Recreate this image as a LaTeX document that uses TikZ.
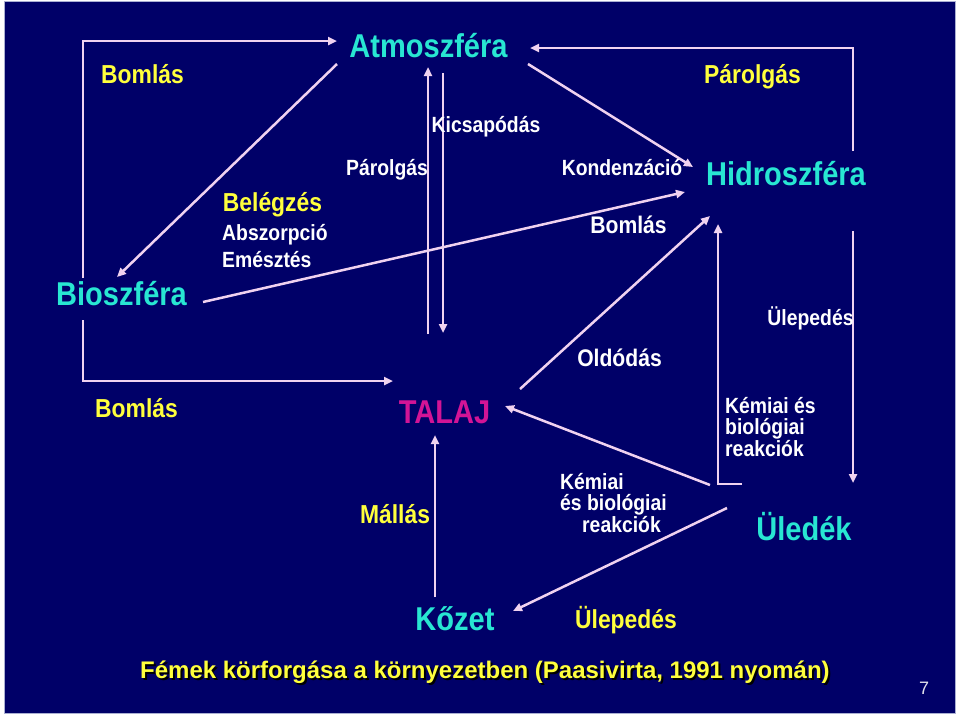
\documentclass[tikz,border=0pt]{standalone}
\usepackage{fontspec}
\setmainfont{Liberation Sans}
\newfontfamily\nar[FakeStretch=0.88]{Liberation Sans}
\usetikzlibrary{arrows.meta}
\definecolor{navy}{RGB}{0,0,104}
\definecolor{bordC}{RGB}{170,175,210}
\definecolor{cyanC}{RGB}{40,230,210}
\definecolor{yelC}{RGB}{255,255,60}
\definecolor{magC}{RGB}{210,20,150}
\definecolor{lineC}{RGB}{240,210,240}
\definecolor{numC}{RGB}{225,225,235}
\tikzset{
  sph/.style={anchor=base, inner sep=0pt, text=cyanC, font=\nar\bfseries\fontsize{33}{36}\selectfont},
  ylab/.style={anchor=base, inner sep=0pt, text=yelC, font=\nar\bfseries\fontsize{26}{30}\selectfont},
  wlab/.style={anchor=base, inner sep=0pt, text=white, font=\nar\bfseries\fontsize{22}{21.5}\selectfont},
  ttl/.style={anchor=base, inner sep=0pt, text=yelC, font=\bfseries\fontsize{24}{28}\selectfont},
  arr/.style={draw=lineC, line width=2.5pt, -{Triangle[length=9pt,width=8pt]}},
}
\begin{document}
\begin{tikzpicture}[x=1pt,y=-1pt]
\useasboundingbox (0,0) rectangle (960,716);
\fill[white] (0,0) rectangle (960,716);
\fill[navy,draw=bordC,line width=1pt] (4,1.5) rectangle (955.5,713.5);

% main nodes
\node[sph] (atm) at (428.5,57) {Atmoszféra};
\node[sph] (bio) at (121.5,305) {Bioszféra};
\node[sph] (hid) at (786,185) {Hidroszféra};
\node[sph,text=magC] (tal) at (444.5,423) {TALAJ};
\node[sph] (koz) at (455,630) {Kőzet};
\node[sph] (ule) at (804,540) {Üledék};

% connectors
\draw[arr] ([shift={(-38.5,-27)}]bio.base) |- ([shift={(-91.5,-16)}]atm.base);
\draw[arr] ([shift={(-91.5,7)}]atm.base) -- ([shift={(-4.5,-28)}]bio.base);
\draw[arr] ([shift={(-38.5,15)}]bio.base) |- ([shift={(-51.5,-42)}]tal.base);
\draw[arr] ([shift={(81.5,-3)}]bio.base) -- ([shift={(-101,7)}]hid.base);
\draw[arr] ([shift={(-16.5,-89)}]tal.base) -- ([shift={(-0.5,10)}]atm.base);
\draw[arr] ([shift={(14.5,16)}]atm.base) -- ([shift={(-1.5,-90)}]tal.base);
\draw[arr] ([shift={(99.5,7)}]atm.base) -- ([shift={(-93,-18)}]hid.base);
\draw[arr] ([shift={(67,-34)}]hid.base) |- ([shift={(101.5,-9)}]atm.base);
\draw[arr] ([shift={(75.5,-34)}]tal.base) -- ([shift={(-76,31)}]hid.base);
\draw[arr] ([shift={(67,46)}]hid.base) -- ([shift={(49,-57)}]ule.base);
\draw[arr] ([shift={(-62,-56)}]ule.base) -| ([shift={(-68,39)}]hid.base);
\draw[arr] ([shift={(-94,-55)}]ule.base) -- ([shift={(60.5,-17)}]tal.base);
\draw[arr] ([shift={(-77,-32)}]ule.base) -- ([shift={(58,-19)}]koz.base);
\draw[arr] ([shift={(-20,-33)}]koz.base) -- ([shift={(-9.5,12)}]tal.base);

% yellow labels
\node[ylab] (bomlasA) at (142.5,83) {Bomlás};
\node[ylab] (bomlasB) at (136.5,417) {Bomlás};
\node[ylab] (belegzes) at (272.5,211) {Belégzés};
\node[ylab] (parolgasY) at (752.5,83) {Párolgás};
\node[ylab] (mallas) at (395,523) {Mállás};
\node[ylab] (ulepY) at (626,628) {Ülepedés};

% white labels (base anchor = baseline of last line)
\node[wlab,anchor=base west,align=left,font=\nar\bfseries\fontsize{22}{27}\selectfont] (abszorp) at (222,267) {Abszorpció\\Emésztés};
\node[wlab] (kicsap) at (486,132) {Kicsapódás};
\node[wlab] (parolgasW) at (387,175) {Párolgás};
\node[wlab] (kondenz) at (622,175) {Kondenzáció};
\node[wlab,font=\nar\bfseries\fontsize{24}{28}\selectfont] (bomlasW) at (628.5,233) {Bomlás};
\node[wlab,font=\nar\bfseries\fontsize{24}{28}\selectfont] (oldodas) at (619.5,366) {Oldódás};
\node[wlab] (ulepW) at (810.5,325) {Ülepedés};
\node[wlab,anchor=base west,align=left] (kemR) at (725,456) {Kémiai és\\biológiai\\reakciók};
\node[wlab,anchor=base west,align=left] (kemM) at (560,532) {Kémiai\\és biológiai\\\hspace*{22pt}reakciók};

% title and page number
\node[ttl,text=black] (titshadow) at (487,680) {Fémek körforgása a környezetben (Paasivirta, 1991 nyomán)};
\node[ttl] (title) at (485,678) {Fémek körforgása a környezetben (Paasivirta, 1991 nyomán)};
\node[anchor=base,inner sep=0pt,text=numC,font=\fontsize{18}{20}\selectfont] (pagenum) at (924,694) {7};
\end{tikzpicture}
\end{document}
